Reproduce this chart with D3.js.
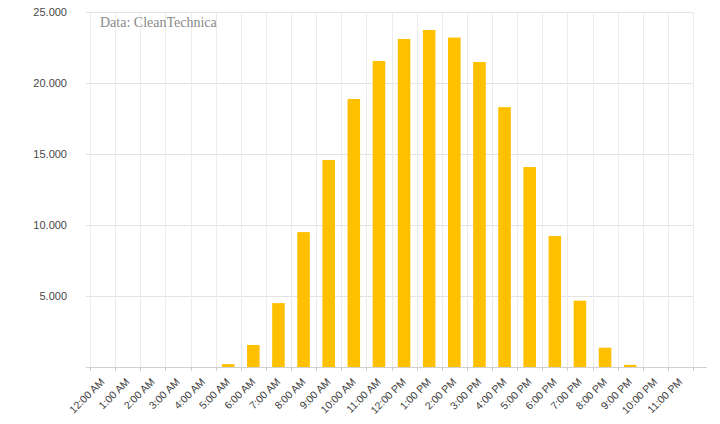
<!DOCTYPE html>
<html><head><meta charset="utf-8">
<script src="https://cdn.jsdelivr.net/npm/d3@7"></script>
<style>body{margin:0;background:#fff;} svg{display:block;}</style>
</head><body>
<svg id="c" width="720" height="424"></svg>
<script>
const categories = ["12:00 AM","1:00 AM","2:00 AM","3:00 AM","4:00 AM","5:00 AM","6:00 AM","7:00 AM","8:00 AM","9:00 AM","10:00 AM","11:00 AM","12:00 PM","1:00 PM","2:00 PM","3:00 PM","4:00 PM","5:00 PM","6:00 PM","7:00 PM","8:00 PM","9:00 PM","10:00 PM","11:00 PM"];
const values = [0,0,0,0,0,200,1550,4500,9500,14580,18870,21550,23100,23730,23200,21480,18300,14080,9220,4670,1360,150,0,0];
const yTicks = [5000,10000,15000,20000,25000];
const sourceText = "Data: CleanTechnica";

const svg = d3.select("#c");
const m = {left:90, right:693, top:12, bottom:367};
const x = d3.scaleBand().domain(categories).range([m.left, m.right]).paddingInner(0.5).paddingOuter(0.25);
const xb = d3.scaleLinear().domain([0, categories.length]).range([m.left, m.right]);
const y = d3.scaleLinear().domain([0,25000]).range([m.bottom, m.top]);
const fmt = v => d3.format(",")(v).replace(/,/g, ".");

// horizontal gridlines
svg.append("g").selectAll("line").data(yTicks).join("line")
  .attr("x1", m.left-4).attr("x2", m.right)
  .attr("y1", d=>Math.round(y(d))+0.5).attr("y2", d=>Math.round(y(d))+0.5)
  .attr("stroke", "#e3e3e3").attr("stroke-width",1);
// vertical gridlines
svg.append("g").selectAll("line").data(d3.range(categories.length+1)).join("line")
  .attr("x1", d=>Math.round(xb(d))+0.5).attr("x2", d=>Math.round(xb(d))+0.5)
  .attr("y1", m.top).attr("y2", m.bottom)
  .attr("stroke", "#ececec").attr("stroke-width",1);

// y labels
svg.append("g").selectAll("text").data(yTicks).join("text")
  .attr("x", 67).attr("y", d=>y(d)).attr("dy","0.35em")
  .attr("text-anchor","end").attr("font-family","Liberation Sans, Arial, sans-serif")
  .attr("font-size", 11).attr("fill","#484848").text(fmt);

// bars
svg.append("g").selectAll("rect").data(values).join("rect")
  .attr("x", (d,i)=>x(categories[i])).attr("width", x.bandwidth())
  .attr("y", d=>y(d)).attr("height", d=>m.bottom - y(d))
  .attr("fill", "#FFC000");

// x axis line and ticks
svg.append("line").attr("x1", m.left-4).attr("x2", 707).attr("y1", m.bottom+0.5).attr("y2", m.bottom+0.5)
  .attr("stroke","#d0d0d0");
svg.append("g").selectAll("line").data(d3.range(categories.length+1)).join("line")
  .attr("x1", d=>Math.round(xb(d))+0.5).attr("x2", d=>Math.round(xb(d))+0.5)
  .attr("y1", m.bottom).attr("y2", m.bottom+4).attr("stroke","#d0d0d0");

// x labels
svg.append("g").selectAll("text").data(categories).join("text")
  .attr("transform", d=>`translate(${x(d)+x.bandwidth()/2},${m.bottom+13}) rotate(-45)`)
  .attr("text-anchor","end").attr("dy","0.35em")
  .attr("font-family","Liberation Sans, Arial, sans-serif").attr("font-size",10.5)
  .attr("fill","#3c3c3c").text(d=>d);

// source text
svg.append("text").attr("x", 100).attr("y", 27)
  .attr("font-family","Liberation Serif, Times New Roman, serif").attr("font-size", 14)
  .attr("fill","#8a8a8a").text(sourceText);
</script>
</body></html>
